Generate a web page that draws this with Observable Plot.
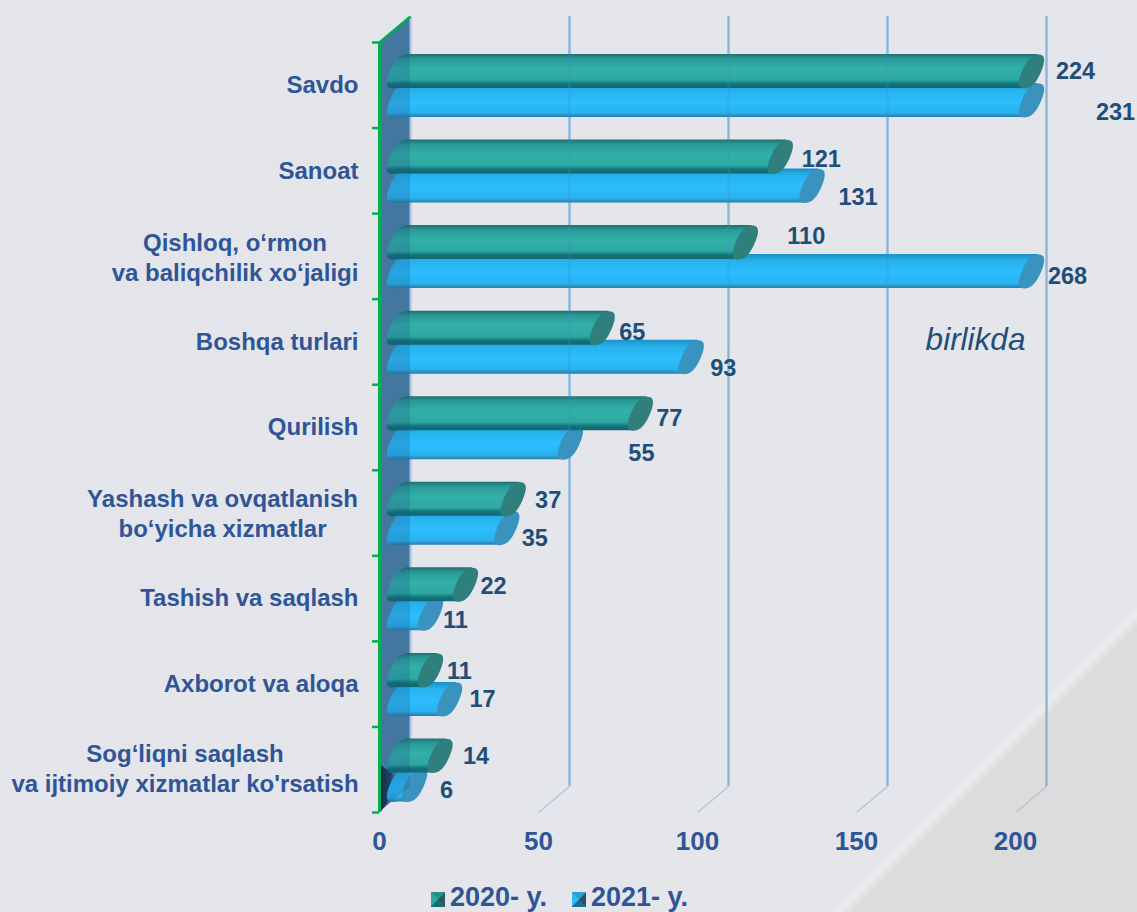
<!DOCTYPE html>
<html><head><meta charset="utf-8">
<script src="https://cdn.jsdelivr.net/npm/d3@7"></script>
<script src="https://cdn.jsdelivr.net/npm/@observablehq/plot@0.6"></script>
<style>
html,body{margin:0;padding:0;width:1137px;height:912px;overflow:hidden}
body{background:linear-gradient(135deg,#e4e5ea 0,#e5e6ea 1231px,#ececee 1238px,#dcdcdc 1248px);font-family:"Liberation Sans",Arial,sans-serif}
svg{display:block}
#legend{position:relative;height:32px}
#legend span{position:absolute;top:2px;font:bold 27px "Liberation Sans",Arial,sans-serif;color:#2f5597;line-height:30px;white-space:pre}
#legend i{position:absolute;top:12px;width:14px;height:15px}
</style></head><body>
<div id="chart"></div>
<div id="legend">
<i style="left:431px;background:conic-gradient(from 45deg,#2a5a60 0 25%,#1f6a6a 25% 50%,#2ba79c 50% 75%,#2d8d88 75% 100%)"></i><span style="left:450px">2020- y.</span>
<i style="left:572px;background:conic-gradient(from 45deg,#2a4f6a 0 25%,#1e6f96 25% 50%,#2cbcf8 50% 75%,#2a9fd4 75% 100%)"></i><span style="left:591px">2021- y.</span>
</div>
<script>
const categories=["Savdo","Sanoat","Qishloq, o‘rmon\nva baliqchilik xo‘jaligi","Boshqa turlari","Qurilish","Yashash va ovqatlanish\nbo‘yicha xizmatlar","Tashish va saqlash","Axborot va aloqa","Sog‘liqni saqlash\nva ijtimoiy xizmatlar ko'rsatish"];
const values2020=[224,121,110,65,77,37,22,11,14];
const values2021=[231,131,268,93,55,35,11,17,6];
const xTicks=[0,50,100,150,200];
const axisMax=200;

// layout constants (pixels, converted to scale units)
const pxX=636/200, pxY=770/9;
const depthX=31/pxX, depthY=26/pxY;
const nudgeX2020=[60,57,77,46,45,51,44,45,52], nudgeY2020=[-14,-11.5,-20,-9.5,-9,-12.6,-12.2,-12.7,-13.3];
const nudgeX2021=[100,62,52,48,87,44,41,49,48], nudgeY2021=[27,26.7,20,26.5,26,25.4,21.8,15.3,20.7];
const catCenter={2:234.5,5:222,8:184.5}, catNudge={2:.5,5:-1,8:-2};

const rows=categories.map((c,i)=>({c,i}));
const series=(vals,top,nx,ny)=>vals.map((v,i)=>({v,i,e:Math.min(v,axisMax),top:i+top,bot:i+top+34/pxY,mid:i+top+17/pxY,
  lx:Math.min(v,axisMax)+nx[i]/pxX,ly:i+.5+ny[i]/pxY}));
const s20=series(values2020,12/pxY,nudgeX2020,nudgeY2020);
const s21=series(values2021,41/pxY,nudgeX2021,nudgeY2021);

const skew=7;
const cap={draw(ctx){
  const ux=skew,uy=-17,vx=9.7,vy=0,k=.68;
  ctx.moveTo(ux,uy);
  ctx.bezierCurveTo(ux+k*vx,uy+k*vy,vx+k*ux,vy+k*uy,vx,vy);
  ctx.bezierCurveTo(vx-k*ux,vy-k*uy,-ux+k*vx,-uy+k*vy,-ux,-uy);
  ctx.bezierCurveTo(-ux-k*vx,-uy-k*vy,-vx-k*ux,-vy-k*uy,-vx,-vy);
  ctx.bezierCurveTo(-vx+k*ux,-vy+k*uy,ux-k*vx,uy-k*vy,ux,uy);
  ctx.closePath();
}};

const defs=()=>{
  const NS="http://www.w3.org/2000/svg";
  const d=document.createElementNS(NS,"defs");
  const mk=(id,stops,x2=0,y2=1)=>{
    const g=document.createElementNS(NS,"linearGradient");
    g.setAttribute("id",id);g.setAttribute("x1",0);g.setAttribute("y1",0);g.setAttribute("x2",x2);g.setAttribute("y2",y2);
    stops.forEach(([o,c,a])=>{const s=document.createElementNS(NS,"stop");s.setAttribute("offset",o);s.setAttribute("stop-color",c);if(a!=null)s.setAttribute("stop-opacity",a);g.appendChild(s);});
    d.appendChild(g);
  };
  mk("gT",[[0,"#1f6e70"],[.14,"#2a9a96"],[.42,"#32b0a8"],[.76,"#2ea8a2"],[.88,"#127279"],[1,"#0f6a72"]]);
  mk("gB",[[0,"#1c8fc6"],[.2,"#27b2ec"],[.55,"#2cbdff"],[.87,"#2ab2ee"],[1,"#2a7da6"]]);
  mk("gS",[[0,"#0c1b2a",.95],[.6,"#16304a",.75],[1,"#2a5a80",0]],1,0);
  return d;
};

// body of a cylinder: a sheared quad whose top edge sits right of its bottom edge
const quad=data=>data.flatMap(d=>[
  {z:d.i,xt:(4+skew)/pxX,xb:(4-skew)/pxX,yt:d.top,yb:d.bot},
  {z:d.i,xt:d.e+skew/pxX,xb:d.e-skew/pxX,yt:d.top,yb:d.bot}
]);
const cyl=(data,grad,capFill)=>[
  Plot.dot(data,{x:()=>0,y:"mid",symbol:cap,fill:`url(#${grad})`,r:15,dx:20,stroke:"none"}),
  Plot.area(quad(data),{x1:"xt",y1:"yt",x2:"xb",y2:"yb",z:"z",fill:`url(#${grad})`,dx:16}),
  Plot.dot(data,{x:"e",y:"mid",symbol:cap,fill:capFill,r:15,dx:16,stroke:"none"})
];
const wall=[{x:0,y1:0,y2:9},{x:depthX,y1:-depthY,y2:9-depthY}];
const grid="#a9c6e6";
const fs=24;

const plot=Plot.plot({
  width:1137,height:880,marginLeft:379,marginRight:122,marginTop:42,marginBottom:68,
  style:{background:"transparent",fontFamily:"'Liberation Sans',Arial,sans-serif"},
  x:{domain:[0,axisMax],axis:null},
  y:{domain:[9,0],axis:null},
  marks:[
    defs,
    Plot.area(wall,{x1:"x",x2:"x",y1:"y1",y2:"y2",fill:"#4f83a8"}),
    Plot.ruleX(xTicks,{x:d=>d,y1:0,y2:9,dx:31,dy:-26,stroke:grid,strokeWidth:2.4}),
    Plot.link(xTicks.slice(1),{x1:d=>d,y1:()=>9,x2:d=>d+depthX,y2:()=>9-depthY,stroke:grid,strokeWidth:1.3}),
    // dark corner at the foot of the wall
    Plot.area([{x:0.5,y1:8.45,y2:9},{x:6,y1:8.6,y2:8.72}],{x1:"x",x2:"x",y1:"y1",y2:"y2",fill:"url(#gS)"}),
    ...cyl(s21,"gB","#3a92bf"),
    ...cyl(s20,"gT","#2f7f7c"),
    // wall and grid seen through the bars
    Plot.area(wall,{x1:"x",x2:"x",y1:"y1",y2:"y2",fill:"#1a4f80",fillOpacity:.22}),
    Plot.ruleX(xTicks.slice(1),{x:d=>d,y1:0,y2:9,dx:31,dy:-26,stroke:"#3b8fc9",strokeWidth:2.4,strokeOpacity:.28}),
    // green axis
    Plot.ruleX([0],{y1:0,y2:9,stroke:"#00b050",strokeWidth:3}),
    Plot.ruleY(d3.range(10),{x1:-7/pxX,x2:0,y:d=>d,stroke:"#00b050",strokeWidth:2.5}),
    Plot.link([0],{x1:0,y1:0,x2:depthX,y2:-depthY,stroke:"#00b050",strokeWidth:2.5}),
    Plot.axisX({ticks:xTicks,tickSize:0,tickPadding:19,fontSize:26,fontWeight:"bold",fill:"#2f5597",label:null,tickFormat:d=>String(d)}),
    // category labels
    Plot.text(rows.filter(r=>!catCenter[r.i]),{x:()=>-21/pxX,y:r=>r.i+.5,text:"c",textAnchor:"end",fontSize:fs,fontWeight:"bold",fill:"#2f5597"}),
    Plot.text(rows.filter(r=>catCenter[r.i]),{x:r=>(catCenter[r.i]-379)/pxX,y:r=>r.i+.5+catNudge[r.i]/pxY,text:"c",textAnchor:"middle",lineHeight:1.25,fontSize:fs,fontWeight:"bold",fill:"#2f5597"}),
    // value labels
    Plot.text(s20,{x:"lx",y:"ly",text:d=>String(d.v),fontSize:23.5,fontWeight:"bold",fill:"#1f4e79"}),
    Plot.text(s21,{x:"lx",y:"ly",text:d=>String(d.v),fontSize:23.5,fontWeight:"bold",fill:"#1f4e79"}),
    Plot.text(["birlikda"],{x:()=>(975-379)/pxX,y:()=>(339-42)/pxY,text:d=>d,fontSize:31.5,fontStyle:"italic",fill:"#1f4e79"})
  ]
});
document.getElementById("chart").appendChild(plot);
</script></body></html>
